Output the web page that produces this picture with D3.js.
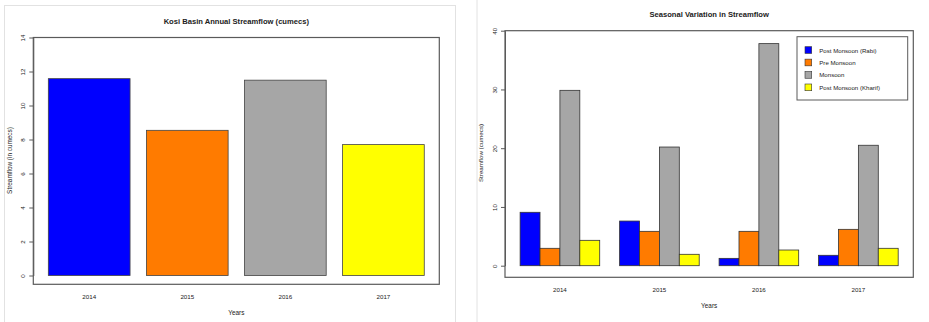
<!DOCTYPE html>
<html>
<head>
<meta charset="utf-8">
<script src="https://cdn.jsdelivr.net/npm/d3@7"></script>
<style>
  html, body { margin: 0; padding: 0; background: #fff; }
  svg { display: block; font-family: "Liberation Sans", Arial, sans-serif; }
</style>
</head>
<body>
<svg id="chart" width="929" height="322"></svg>
<script>
// Years on the category axis
const years = ["2014", "2015", "2016", "2017"];

// Annual mean streamflow, Kosi basin (cumecs)
const annualFlow = [11.58, 8.54, 11.49, 7.70];
const annualTicks = [0, 2, 4, 6, 8, 10, 12, 14];

// Seasonal streamflow (cumecs)
const seasons = ["Post Monsoon (Rabi)", "Pre Monsoon", "Monsoon", "Post Monsoon (Kharif)"];
const rabiFlow    = [9.09, 7.60, 1.25, 1.77];
const preFlow     = [2.96, 5.85, 5.85, 6.19];
const monsoonFlow = [29.85, 20.20, 37.80, 20.50];
const kharifFlow  = [4.32, 1.94, 2.67, 2.96];
const seasonalTicks = [0, 10, 20, 30, 40];

const palette = ["#0000ff", "#ff7b00", "#a6a6a6", "#ffff00"];
const textColor = "#222";
const frameColor = "#5a5a5a";

const svg = d3.select("#chart");

// faint panel edges
svg.append("rect").attr("x", 4.5).attr("y", 5.5).attr("width", 451).attr("height", 330)
  .attr("fill", "none").attr("stroke", "#e2e2e2");
svg.append("line").attr("x1", 477).attr("x2", 477).attr("y1", 0).attr("y2", 322)
  .attr("stroke", "#e2e2e2");

function rotatedYAxis(g, scale, ticks, xPos) {
  const axis = d3.axisLeft(scale).tickValues(ticks).tickSize(4).tickSizeOuter(0).tickFormat(d3.format("d"));
  const ax = g.append("g").attr("transform", `translate(${xPos},0)`).call(axis);
  ax.select(".domain").attr("stroke", frameColor);
  ax.selectAll(".tick line").attr("stroke", frameColor);
  ax.selectAll(".tick text")
    .attr("x", 0).attr("y", -10.5).attr("dy", null)
    .attr("transform", "rotate(-90)")
    .attr("text-anchor", "middle")
    .attr("dominant-baseline", "central")
    .attr("font-size", 6.2).attr("fill", textColor)
    .attr("font-family", "Liberation Sans, Arial, sans-serif");
  return ax;
}

function frame(g, x0, x1, y0, y1) {
  g.append("rect").attr("x", x0).attr("y", y0).attr("width", x1 - x0).attr("height", y1 - y0)
    .attr("fill", "none").attr("stroke", frameColor).attr("stroke-width", 1.2);
}

function label(g, x, y, text, opts = {}) {
  const t = g.append("text").attr("x", x).attr("y", y).text(text)
    .attr("text-anchor", "middle").attr("dominant-baseline", "central")
    .attr("font-size", opts.size || 6.4).attr("fill", textColor);
  if (opts.bold) t.attr("font-weight", "bold");
  if (opts.rotate) t.attr("transform", `rotate(-90,${x},${y})`);
  return t;
}

// ---------- Annual streamflow ----------
{
  const g = svg.append("g");
  const L = 33.3, R = 439.3, T = 37.5, B = 284.3;
  const x = d3.scaleBand().domain(years).range([L, R])
    .paddingInner(0.2 / 1.2).paddingOuter(0.184 / 1.2).align(0.5);
  const y = d3.scaleLinear().domain([0, 14]).range([275.5, 37.5]);

  g.selectAll("rect.bar").data(years).join("rect").attr("class", "bar")
    .attr("x", d => x(d)).attr("width", x.bandwidth())
    .attr("y", (d, i) => y(annualFlow[i])).attr("height", (d, i) => y(0) - y(annualFlow[i]))
    .attr("fill", (d, i) => palette[i]).attr("stroke", "#444").attr("stroke-width", 0.8);

  frame(g, L, R, T, B);
  rotatedYAxis(g, y, annualTicks, L);

  years.forEach(d => label(g, x(d) + x.bandwidth() / 2, 296, d, { size: 6.2 }));
  label(g, (L + R) / 2, 21.7, "Kosi Basin Annual Streamflow (cumecs)", { size: 7.6, bold: true });
  label(g, (L + R) / 2, 312.3, "Years", { size: 6.4 });
  label(g, 9.5, 160.5, "Streamflow (in cumecs)", { size: 6.4, rotate: true });
}

// ---------- Seasonal streamflow ----------
{
  const g = svg.append("g");
  const L = 505, R = 913.3, T = 30.7, B = 277.3;
  const seriesValues = [rabiFlow, preFlow, monsoonFlow, kharifFlow];
  const x0 = d3.scaleBand().domain(years).range([L, R])
    .paddingInner(1 / 5).paddingOuter(0.76 / 5).align(0.5);
  const x1 = d3.scaleBand().domain(seasons).range([0, x0.bandwidth()]).padding(0);
  const y = d3.scaleLinear().domain([0, 40]).range([265.7, 30.7]);

  const cells = [];
  years.forEach((yr, i) => seasons.forEach((s, j) =>
    cells.push({ year: yr, season: s, value: seriesValues[j][i], color: palette[j] })));

  g.selectAll("rect.bar").data(cells).join("rect").attr("class", "bar")
    .attr("x", d => x0(d.year) + x1(d.season)).attr("width", x1.bandwidth())
    .attr("y", d => y(d.value)).attr("height", d => y(0) - y(d.value))
    .attr("fill", d => d.color).attr("stroke", "#333").attr("stroke-width", 0.8);

  frame(g, L, R, T, B);
  rotatedYAxis(g, y, seasonalTicks, L);

  years.forEach(d => label(g, x0(d) + x0.bandwidth() / 2, 289.3, d, { size: 6.2 }));
  label(g, (L + R) / 2, 14.3, "Seasonal Variation in Streamflow", { size: 7.6, bold: true });
  label(g, (L + R) / 2, 305.7, "Years", { size: 6.4 });
  label(g, 480.8, 153, "Streamflow (cumecs)", { size: 6.2, rotate: true });

  // legend
  const lg = g.append("g");
  lg.append("rect").attr("x", 797).attr("y", 36.7).attr("width", 110.7).attr("height", 63.3)
    .attr("fill", "#fff").attr("stroke", frameColor).attr("stroke-width", 1);
  const rowY = d3.scalePoint().domain(seasons).range([50, 87.3]);
  seasons.forEach((s, j) => {
    lg.append("rect").attr("x", 805).attr("y", rowY(s) - 3.3).attr("width", 6.7).attr("height", 6.7)
      .attr("fill", palette[j]).attr("stroke", "#333").attr("stroke-width", 0.6);
    lg.append("text").attr("x", 819.3).attr("y", rowY(s)).text(s)
      .attr("dominant-baseline", "central").attr("font-size", 6.1).attr("fill", textColor);
  });
}
</script>
</body>
</html>
